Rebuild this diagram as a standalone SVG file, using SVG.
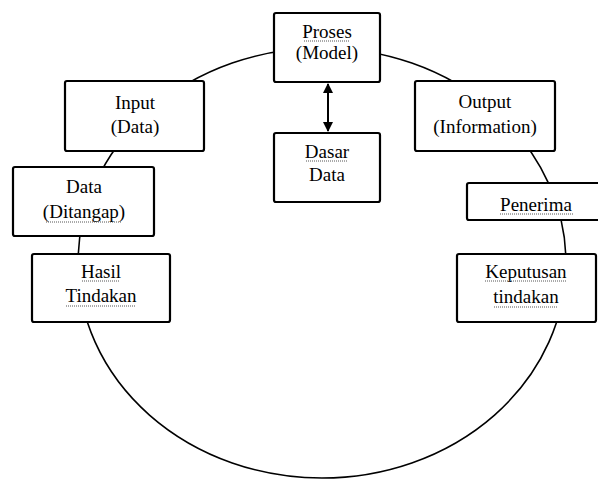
<svg xmlns="http://www.w3.org/2000/svg" width="598" height="481" viewBox="0 0 598 481">
<style>
.box{fill:#fff;stroke:#000;stroke-width:2.2}
.t{font-family:"Liberation Serif","Times New Roman",serif;font-size:19px;fill:#000;text-anchor:middle}
.sq{stroke:#555;stroke-width:1;stroke-dasharray:1 1;fill:none}
.cyc{fill:none;stroke:#000;stroke-width:1.6}
</style>
<defs>
<marker id="ah" viewBox="0 0 10 10" refX="9" refY="5" markerWidth="5" markerHeight="5" orient="auto-start-reverse">
<path d="M0,0 L10,5 L0,10 z" fill="#000"/>
</marker>
</defs>
<rect width="598" height="481" fill="#fff"/>
<g id="connectors">
<ellipse class="cyc" cx="322" cy="263" rx="244" ry="215"/>
<line x1="328" y1="84" x2="328" y2="131" stroke="#000" stroke-width="2" marker-start="url(#ah)" marker-end="url(#ah)"/>
</g>
<g id="proses">
<rect class="box" x="274" y="13" width="106" height="69" rx="2"/>
<text class="t" x="327" y="38">Proses</text>
<text class="t" x="327" y="59">(Model)</text>
<path class="sq" d="M304,41 H350"/>
</g>
<g id="dasar-data">
<rect class="box" x="274" y="133" width="106" height="69" rx="2"/>
<text class="t" x="327" y="158">Dasar</text>
<text class="t" x="327" y="181">Data</text>
<path class="sq" d="M306,161 H348"/>
</g>
<g id="input">
<rect class="box" x="65" y="81" width="139" height="70" rx="2"/>
<text class="t" x="135" y="109">Input</text>
<text class="t" x="135" y="133">(Data)</text>
</g>
<g id="data-ditangap">
<rect class="box" x="13" y="167" width="141" height="69" rx="2"/>
<text class="t" x="84" y="193">Data</text>
<text class="t" x="84" y="218">(Ditangap)</text>
<path class="sq" d="M46,222 H122"/>
</g>
<g id="hasil-tindakan">
<rect class="box" x="32" y="254" width="138" height="68" rx="2"/>
<text class="t" x="101" y="278">Hasil</text>
<text class="t" x="101" y="302">Tindakan</text>
<path class="sq" d="M82,281 H120 M66,306 H136"/>
</g>
<g id="output">
<rect class="box" x="415" y="81" width="140" height="70" rx="2"/>
<text class="t" x="485" y="108">Output</text>
<text class="t" x="485" y="133">(Information)</text>
</g>
<g id="penerima">
<rect class="box" x="467" y="183" width="140" height="37" rx="2"/>
<text class="t" x="536" y="211">Penerima</text>
<path class="sq" d="M500,214 H573"/>
</g>
<g id="keputusan-tindakan">
<rect class="box" x="457" y="254" width="139" height="68" rx="2"/>
<text class="t" x="526" y="278">Keputusan</text>
<text class="t" x="526" y="303">tindakan</text>
<path class="sq" d="M485,281 H567 M494,307 H558"/>
</g>
</svg>
